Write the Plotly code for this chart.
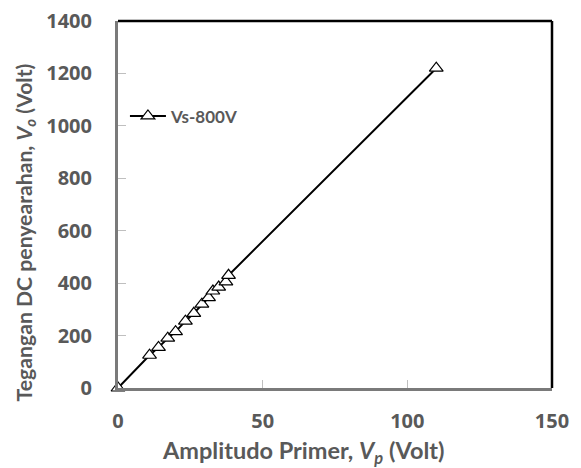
import plotly.graph_objects as go

vp = [0, 10.9, 14.0, 17.2, 19.9, 23.3, 26.2, 29.0, 31.3, 32.8, 34.8, 37.3, 38.2, 110]
vo = [0, 125, 155, 190, 215, 255, 285, 320, 345, 370, 385, 405, 430, 1220]
series_name = "Vs-800V"
x_ticks = [0, 50, 100, 150]
y_ticks = [0, 200, 400, 600, 800, 1000, 1200, 1400]
x_title = "Amplitudo Primer, <i>V</i><sub><i>p</i></sub> (Volt)"
y_title = "Tegangan DC penyearahan, <i>V</i><sub><i>o</i></sub> (Volt)"

gray = "#595959"
title_font = "Lato, Open Sans, sans-serif"
tick_font = "Open Sans, Lato, sans-serif"

fig = go.Figure()
fig.add_trace(go.Scatter(
    x=vp, y=vo, mode="lines+markers", name=series_name,
    line=dict(color="black", width=2),
    marker=dict(symbol="triangle-up", size=12, color="white",
                line=dict(width=1.2, color="black")),
    cliponaxis=False,
))

axis_common = dict(
    showgrid=False, zeroline=False, automargin=False,
    showline=True, linecolor="#7a7a7a", linewidth=3, mirror=False,
    ticks="inside", ticklen=8, tickcolor="#bfbfbf",
    ticklabeloverflow="allow",
    tickfont=dict(size=20, color=gray, family=tick_font, weight="bold"),
)

fig.update_layout(
    width=581, height=468,
    margin=dict(l=110, r=37, t=13, b=88),
    paper_bgcolor="white", plot_bgcolor="white",
    font=dict(family=title_font, color=gray),
    showlegend=True,
    legend=dict(x=0.016, y=0.740, xanchor="left", yanchor="middle",
                bgcolor="rgba(0,0,0,0)",
                font=dict(size=17, color=gray, family=title_font, weight="bold"),
                itemwidth=36),
    xaxis=dict(range=[0, 150], tickvals=x_ticks, ticklabelstandoff=13, **axis_common),
    yaxis=dict(range=[0, 1400], tickvals=y_ticks, ticklabelstandoff=19, **axis_common),
    shapes=[
        dict(type="line", xref="paper", yref="paper", x0=0, x1=1, y0=1, y1=1,
             line=dict(color="black", width=2.5)),
        dict(type="line", xref="paper", yref="paper", x0=1, x1=1, y0=0, y1=1,
             line=dict(color="black", width=2.5)),
    ],
    annotations=[
        dict(text=x_title, xref="paper", yref="paper", x=0.4264, y=0,
             xanchor="center", yanchor="middle", yshift=-64, showarrow=False,
             font=dict(size=23.5, color=gray, family=title_font, weight="bold")),
        dict(text=y_title, xref="paper", yref="paper", x=0, y=0.424,
             xanchor="center", yanchor="middle", xshift=-93, textangle=-90,
             showarrow=False,
             font=dict(size=21.2, color=gray, family=title_font, weight="bold")),
    ],
)

fig.write_html("out.html")
